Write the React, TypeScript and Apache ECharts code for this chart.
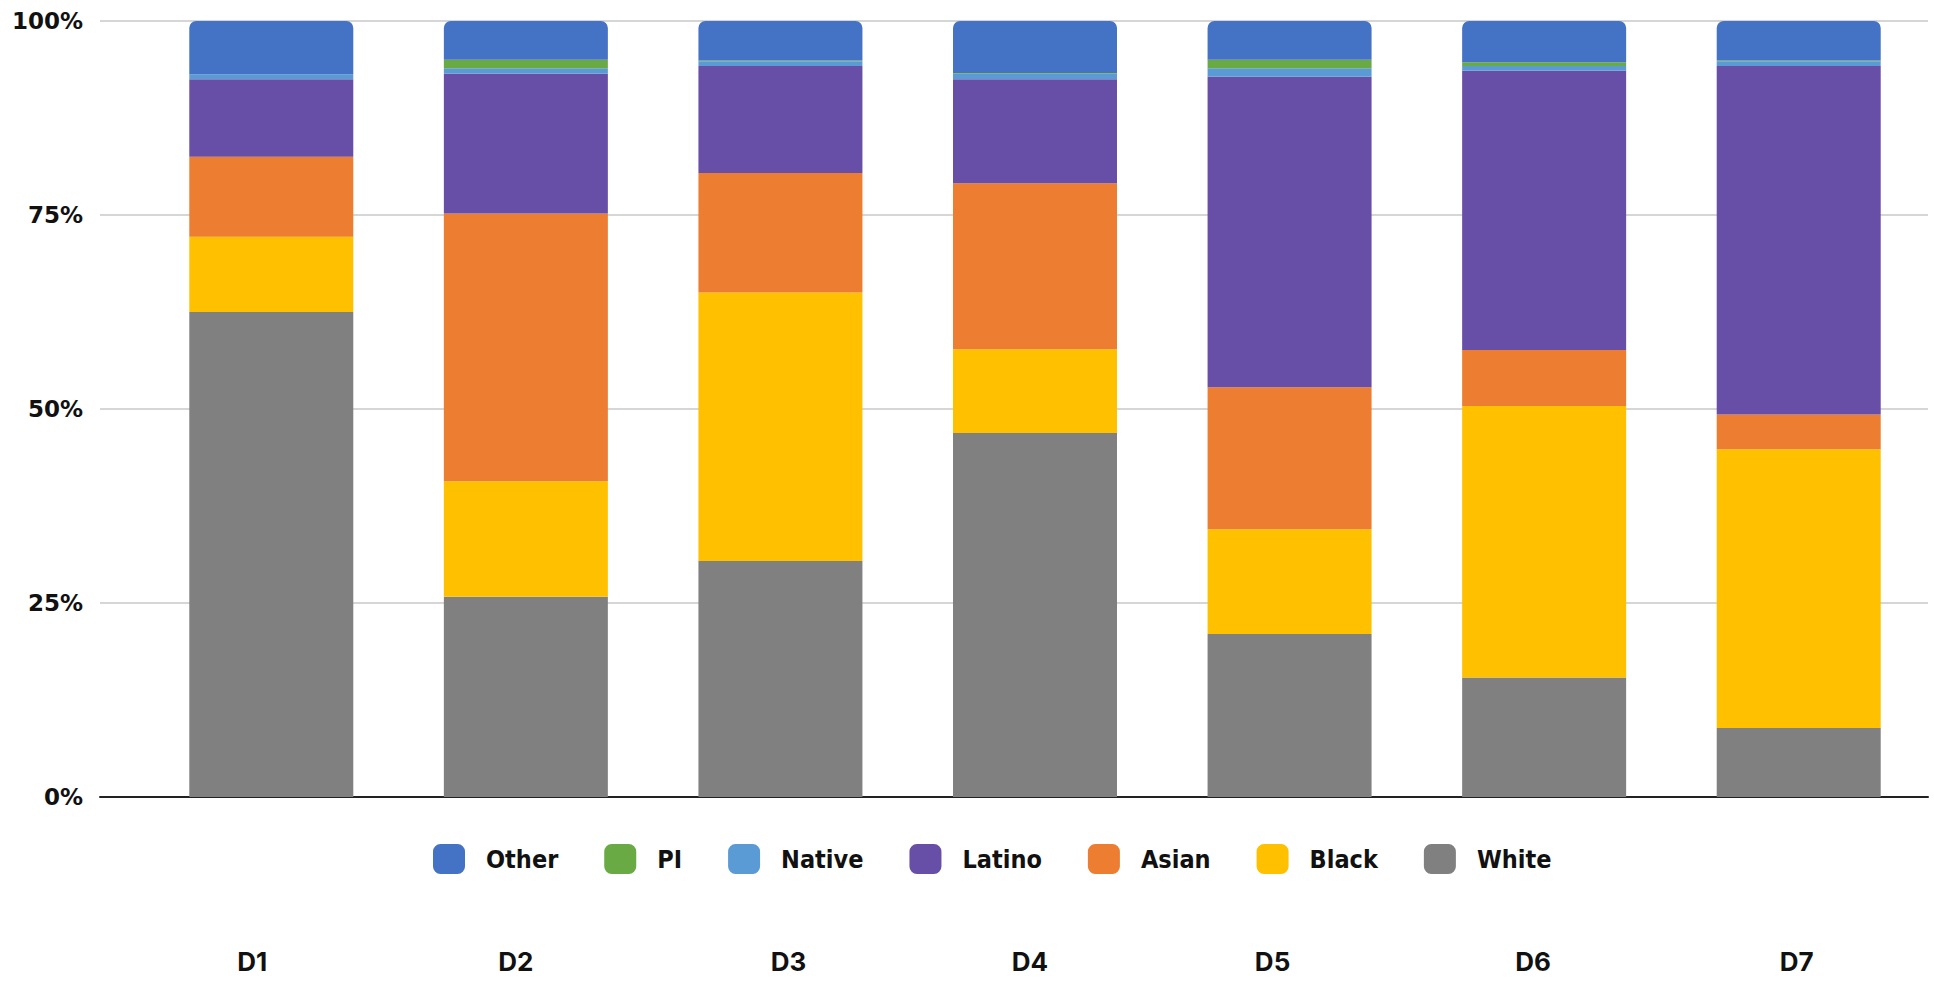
import React, { useEffect, useRef } from "react";
import * as echarts from "echarts";

const categories = ["D1", "D2", "D3", "D4", "D5", "D6", "D7"];
const white = [62.5, 25.8, 30.4, 46.9, 21.0, 15.4, 8.9];
const black = [9.7, 14.9, 34.6, 10.8, 13.5, 35.0, 35.9];
const asian = [10.3, 34.5, 15.4, 21.4, 18.3, 7.2, 4.5];
const latino = [10.0, 18.0, 13.8, 13.4, 40.0, 36.0, 44.9];
const native = [0.65, 0.7, 0.6, 0.7, 1.1, 0.6, 0.6];
const pi = [0.0, 1.1, 0.1, 0.1, 1.1, 0.5, 0.1];
const other = [6.85, 5.0, 5.1, 6.7, 5.0, 5.3, 5.1];
const yTicks = [0, 25, 50, 75, 100];
const legendOrder = ["Other", "PI", "Native", "Latino", "Asian", "Black", "White"];

// small horizontal nudges of the category labels (px, negative = left)
const labelNudge = [-19, -10, 8, -5, -17, -11, -2];

export default function App() {
  const ref = useRef<HTMLDivElement>(null);
  useEffect(() => {
    if (!ref.current) return;
    const chart = echarts.init(ref.current, undefined, { renderer: "svg" });
    const rich: Record<string, any> = {};
    categories.forEach((c, i) => {
      const o = labelNudge[i];
      rich["l" + i] = {
        fontFamily: "Inter",
        fontWeight: 700,
        fontSize: 26,
        color: "#111",
        padding: o < 0 ? [0, -2 * o, 0, 0] : [0, 0, 0, 2 * o],
      };
    });
    const seriesDefs = [
      { name: "White", data: white, color: "#808080" },
      { name: "Black", data: black, color: "#FFC000" },
      { name: "Asian", data: asian, color: "#ED7D31" },
      { name: "Latino", data: latino, color: "#674EA7" },
      { name: "Native", data: native, color: "#5B9BD5" },
      { name: "PI", data: pi, color: "#6AAA45" },
      { name: "Other", data: other, color: "#4472C4" },
    ];
    chart.setOption({
      animation: false,
      backgroundColor: "#ffffff",
      grid: [
        { left: 100, right: 6, top: 21, bottom: 184 },
        { left: 144, right: 8, top: 21, bottom: 184 },
      ],
      legend: {
        data: legendOrder,
        left: 428,
        top: 839,
        itemWidth: 32,
        itemHeight: 30,
        itemGap: 46,
        icon: "roundRect",
        textStyle: {
          fontFamily: "DejaVu Sans Condensed",
          fontWeight: "bold",
          fontSize: 25,
          color: "#111",
          padding: [0, 0, 0, 16],
        },
      },
      xAxis: [
        {
          type: "value",
          gridIndex: 0,
          min: 0,
          max: 1,
          axisLine: { show: true, lineStyle: { color: "#222", width: 2 } },
          axisTick: { show: false },
          axisLabel: { show: false },
          splitLine: { show: false },
        },
        {
          type: "category",
          gridIndex: 1,
          data: categories,
          axisLine: { show: false },
          axisTick: { show: false },
          axisLabel: {
            margin: 151,
            formatter: (v: string) => {
              const i = categories.indexOf(v);
              return `{l${i}|${v}}`;
            },
            rich,
          },
        },
      ],
      yAxis: [
        {
          type: "value",
          gridIndex: 0,
          min: yTicks[0],
          max: yTicks[yTicks.length - 1],
          interval: yTicks[1] - yTicks[0],
          axisLine: { show: false },
          axisTick: { show: false },
          axisLabel: {
            formatter: "{value}%",
            margin: 17,
            fontFamily: "DejaVu Sans",
            fontWeight: "bold",
            fontSize: 23,
            color: "#111",
          },
          splitLine: { lineStyle: { color: "#c8c8c8", width: 1.5 } },
        },
        {
          type: "value",
          gridIndex: 1,
          min: 0,
          max: 100,
          show: false,
          splitLine: { show: false },
        },
      ],
      series: seriesDefs.map((s) => ({
        name: s.name,
        type: "bar",
        stack: "total",
        xAxisIndex: 1,
        yAxisIndex: 1,
        barWidth: 164,
        data: s.data,
        itemStyle: {
          color: s.color,
          borderRadius: s.name === "Other" ? [7, 7, 0, 0] : 0,
        },
      })),
    });
    return () => chart.dispose();
  }, []);
  return (
    <div
      ref={ref}
      style={{ position: "fixed", left: 0, top: 0, width: 1934, height: 981 }}
    />
  );
}
